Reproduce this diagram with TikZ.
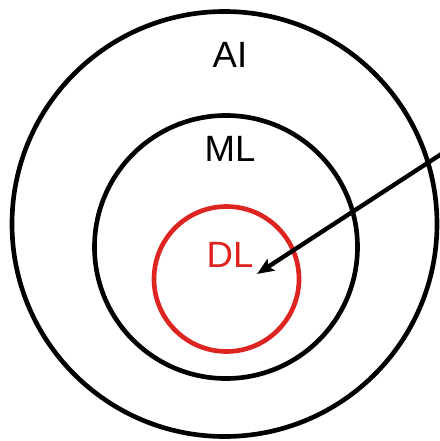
\documentclass[tikz,border=0pt]{standalone}
\usepackage{fontspec}
\setmainfont{Liberation Sans}
\usetikzlibrary{arrows.meta}
\definecolor{dlred}{RGB}{222,36,32}
\tikzset{
  ring/.style={line width=3.3pt},
  lbl/.style={anchor=base, font=\fontsize{26}{31}\selectfont, inner sep=0pt}
}
\begin{document}
\begin{tikzpicture}[x=0.025cm,y=-0.025cm]
    \useasboundingbox (0,0) rectangle (440,441);
    \draw[ring] (224.5,224) circle (212.5);          % AI
    \draw[ring] (226,247) circle (131.5);            % ML
    \draw[ring, dlred] (226.5,279) circle (72.5);    % DL

    \node[lbl] (ai) at (230,67) {AI};
    \node[lbl] (ml) at (230,161) {ML};
    \node[lbl, text=dlred] (dl) at (230,267) {DL};

    \coordinate (start) at (446,151);
    \coordinate (tip) at (257,274);
    \draw[line width=3.1pt, -{Stealth[length=0.42cm, width=0.34cm, inset=0.08cm]}] (start) -- (tip);
\end{tikzpicture}
\end{document}
